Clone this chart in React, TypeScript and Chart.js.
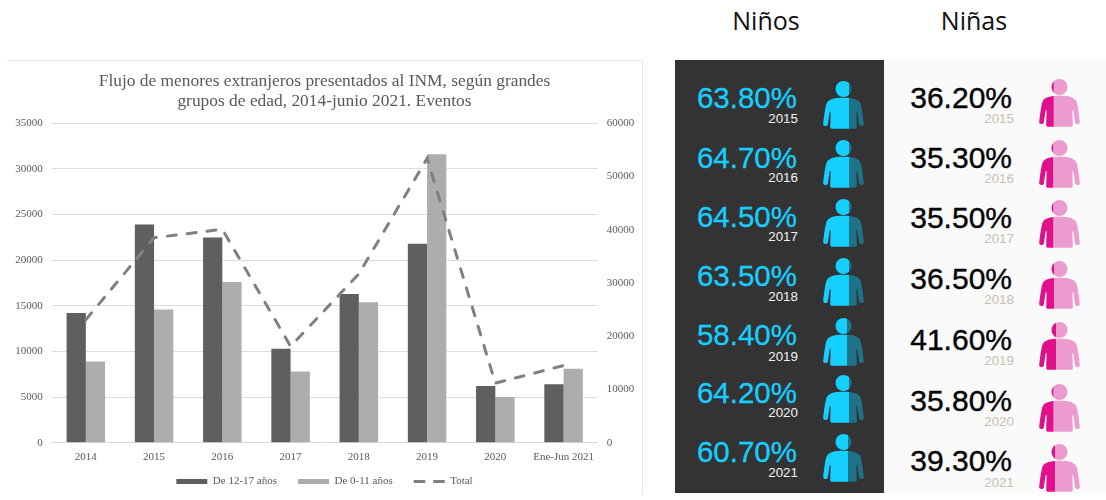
import React, { useEffect, useRef } from "react";
import { Chart, registerables } from "chart.js";

Chart.register(...registerables);

const categories = ["2014", "2015", "2016", "2017", "2018", "2019", "2020", "Ene-Jun 2021"];
const adolescents = [14200, 23900, 22500, 10300, 16300, 21800, 6200, 6400];
const children = [8900, 14600, 17600, 7800, 15400, 31600, 5000, 8100];
const totals = [23100, 38500, 40100, 18100, 31700, 53400, 11200, 14500];

const years = ["2015", "2016", "2017", "2018", "2019", "2020", "2021"];
const boysPct = [63.8, 64.7, 64.5, 63.5, 58.4, 64.2, 60.7];
const girlsPct = [36.2, 35.3, 35.5, 36.5, 41.6, 35.8, 39.3];

const boysTextY = [98, 158, 217, 276, 335, 393, 452];
const boysYearY = [119, 178, 237, 297, 357, 413, 473];
const boysIconY = [81, 140, 199, 258, 318, 375, 434];
const girlsTextY = [98, 158, 218, 279, 340, 401, 461];
const girlsYearY = [119, 179, 239, 300, 361, 422, 483];
const girlsIconY = [79, 140, 200, 261, 322, 384, 444];

const TEXT = "#595959";
const SERIF = "'Liberation Serif', serif";
const SANS = "'Liberation Sans', sans-serif";

// The legend has wide gaps between items but sits close to the axis labels:
// keep its reserved height small and place it just under the tick labels.
const compactLegend = {
  id: "compactLegend",
  beforeLayout(chart: any) {
    const legend = chart.legend;
    if (legend && !legend.__compact) {
      const fit = legend.fit;
      legend.fit = function () {
        fit.call(this);
        this.height = 24;
      };
      legend.__compact = true;
    }
  },
  afterLayout(chart: any) {
    const legend = chart.legend;
    if (legend) {
      legend.top = 395;
      legend.bottom = 435;
    }
  },
};

function Person({ x, y, pct, left, right, id }: { x: number; y: number; pct: number; left: string; right: string; id: string }) {
  const w = 41;
  const h = 48;
  const split = (w * pct) / 100;
  const body =
    "M20.5 16.8C10 16.8 4.8 18.5 3.2 23.5 2 28 1 36 .2 42.5 0 44 .9 44.8 2.3 45 3.7 45.2 4.6 44.5 4.9 43.2L6.6 31.5C6.8 30.7 7.6 30.8 7.6 31.7L7.2 46C7.2 47 7.9 47.8 9 47.8H32C33.1 47.8 33.8 47 33.8 46L33.4 31.7C33.4 30.8 34.2 30.7 34.4 31.5L36.1 43.2C36.4 44.5 37.3 45.2 38.7 45 40.1 44.8 41 44 40.8 42.5 40 36 39 28 37.8 23.5 36.2 18.5 31 16.8 20.5 16.8Z";
  const shape = (
    <>
      <circle cx={20.5} cy={8} r={8} />
      <path d={body} />
    </>
  );
  return (
    <svg style={{ position: "absolute", left: x, top: y }} width={w} height={h} viewBox={`0 0 ${w} ${h}`}>
      <defs>
        <clipPath id={`${id}-l`}>
          <rect x={0} y={0} width={split} height={h} />
        </clipPath>
        <clipPath id={`${id}-r`}>
          <rect x={split} y={0} width={w - split} height={h} />
        </clipPath>
      </defs>
      <g fill={left} clipPath={`url(#${id}-l)`}>{shape}</g>
      <g fill={right} clipPath={`url(#${id}-r)`}>{shape}</g>
    </svg>
  );
}

function Label({ text, right, cy, size, color, stroke = 0 }: { text: string; right: number; cy: number; size: number; color: string; stroke?: number }) {
  return (
    <div
      style={{
        position: "absolute",
        right: 1106 - right,
        top: cy - size * 0.6,
        height: size * 1.2,
        lineHeight: `${size * 1.2}px`,
        fontFamily: SANS,
        fontSize: size,
        color,
        whiteSpace: "nowrap",
        WebkitTextStroke: stroke ? `${stroke}px ${color}` : undefined,
      }}
    >
      {text}
    </div>
  );
}

function Heading({ text, cx }: { text: string; cx: number }) {
  return (
    <div
      style={{
        position: "absolute",
        left: cx - 60,
        width: 120,
        top: 2,
        textAlign: "center",
        fontFamily: "'Open Sans', sans-serif",
        fontSize: 25,
        lineHeight: "36px",
        color: "#111",
      }}
    >
      {text}
    </div>
  );
}

export default function App() {
  const ref = useRef<HTMLCanvasElement>(null);

  useEffect(() => {
    const chart = new Chart(ref.current!, {
      type: "bar",
      plugins: [compactLegend],
      data: {
        labels: categories,
        datasets: [
          { type: "bar", label: "De 12-17 años", data: adolescents, backgroundColor: "#5f5f5f", yAxisID: "y", order: 1 },
          { type: "bar", label: "De 0-11 años", data: children, backgroundColor: "#adadad", yAxisID: "y", order: 1 },
          {
            type: "line",
            label: "Total",
            data: totals,
            borderColor: "#808080",
            backgroundColor: "#808080",
            borderWidth: 3,
            borderDash: [9, 11],
            borderCapStyle: "round",
            pointRadius: 0,
            tension: 0,
            fill: false,
            yAxisID: "y1",
            order: 0,
          },
        ],
      } as any,
      options: {
        animation: false,
        responsive: false,
        layout: { padding: { left: 0, right: 0, top: 11, bottom: 6.3 } },
        datasets: { bar: { categoryPercentage: 0.564, barPercentage: 1 } },
        plugins: {
          title: {
            display: true,
            text: ["Flujo de menores extranjeros presentados al INM, según grandes", "grupos de edad, 2014-junio 2021. Eventos"],
            color: TEXT,
            font: { family: SERIF, size: 17.4, weight: "normal", lineHeight: 1.15 },
            padding: { top: 0, bottom: 12.3 },
          },
          legend: {
            position: "bottom",
            labels: {
              usePointStyle: true,
              pointStyleWidth: 31,
              boxHeight: 5,
              color: TEXT,
              padding: 21,
              font: { family: SERIF, size: 11 },
              sort: (a: any, b: any) => a.datasetIndex - b.datasetIndex,
              generateLabels: (c: any) =>
                Chart.defaults.plugins.legend.labels.generateLabels(c).map((item: any) => {
                  const line = item.text === "Total";
                  return {
                    ...item,
                    pointStyle: line ? "line" : "rect",
                    lineWidth: line ? 3 : 0,
                    lineDash: line ? [11.5, 8] : [],
                    strokeStyle: line ? "#808080" : item.fillStyle,
                  };
                }),
            },
          },
          tooltip: { enabled: false },
        },
        scales: {
          x: {
            offset: true,
            grid: { display: false, drawTicks: false },
            border: { color: "#d9d9d9", width: 1 },
            ticks: { color: TEXT, font: { family: SERIF, size: 11 }, padding: 8, maxRotation: 0, autoSkip: false },
            afterFit: (s: any) => { s.height = 22; },
          },
          y: {
            position: "left",
            min: 0,
            max: 35000,
            afterFit: (s: any) => { s.width = 44.7; },
            ticks: { stepSize: 5000, color: TEXT, font: { family: SERIF, size: 11 }, padding: 9, callback: (v: any) => String(v) },
            grid: { color: "#dcdcdc", lineWidth: 1, drawTicks: false },
            border: { display: false },
          },
          y1: {
            position: "right",
            min: 0,
            max: 60000,
            afterFit: (s: any) => { s.width = 44.3; },
            ticks: { stepSize: 10000, color: TEXT, font: { family: SERIF, size: 11 }, padding: 9, callback: (v: any) => String(v) },
            grid: { display: false, drawTicks: false },
            border: { display: false },
          },
        },
      } as any,
    });
    return () => chart.destroy();
  }, []);

  return (
    <div style={{ position: "absolute", left: 0, top: 0, width: 1106, height: 500, overflow: "hidden", background: "#fff" }}>
      <div style={{ position: "absolute", left: 7, top: 60, width: 636, height: 435, boxSizing: "border-box", borderTop: "1px solid #e6e6e6", borderRight: "1px solid #e6e6e6" }} />
      <canvas ref={ref} width={635} height={435} style={{ position: "absolute", left: 7, top: 60, display: "block" }} />

      <Heading text="Niños" cx={766} />
      <Heading text="Niñas" cx={974} />

      <div style={{ position: "absolute", left: 675, top: 60, width: 209, height: 433, background: "#333333" }} />
      <div style={{ position: "absolute", left: 884, top: 60, width: 222, height: 433, background: "#fafafa" }} />

      {years.map((year, i) => (
        <React.Fragment key={year}>
          <Label text={`${boysPct[i].toFixed(2)}%`} right={797} cy={boysTextY[i]} size={29.5} color="#15cfff" stroke={0.3} />
          <Label text={year} right={798} cy={boysYearY[i]} size={13.4} color="#f2f2f2" />
          <Person id={`b${i}`} x={823} y={boysIconY[i]} pct={boysPct[i]} left="#15cfff" right="#1e7389" />
          <Label text={`${girlsPct[i].toFixed(2)}%`} right={1012} cy={girlsTextY[i]} size={30} color="#050505" stroke={0.4} />
          <Label text={year} right={1014} cy={girlsYearY[i]} size={13.4} color="#c8c0ae" />
          <Person id={`g${i}`} x={1039} y={girlsIconY[i]} pct={girlsPct[i]} left="#e0108c" right="#eb9bcd" />
        </React.Fragment>
      ))}
    </div>
  );
}
